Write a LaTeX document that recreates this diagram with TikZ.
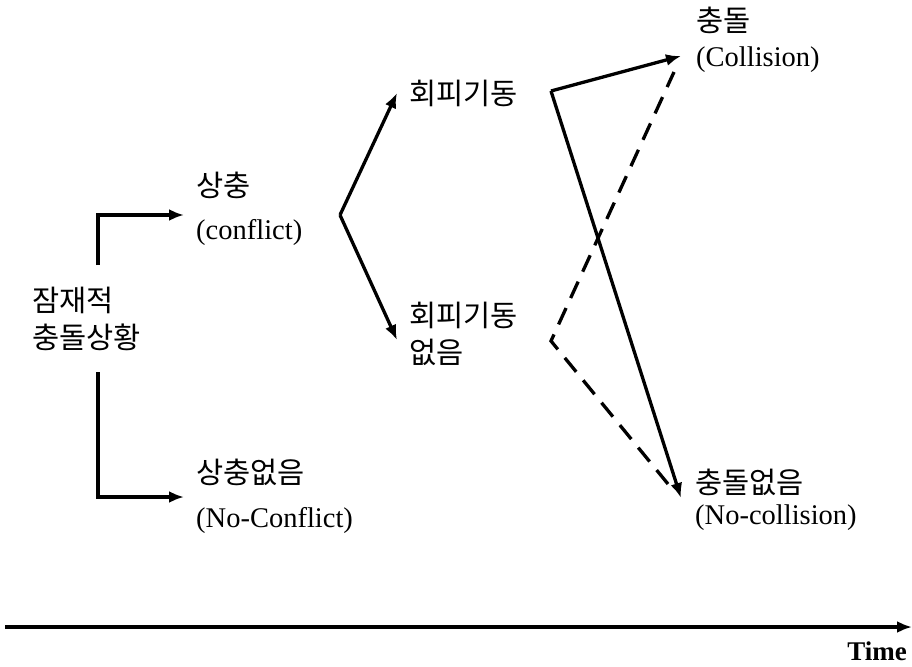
\documentclass[tikz,border=0pt]{standalone}
\usepackage{fontspec}
\setmainfont{Liberation Serif}
\newfontfamily\kr{Noto Sans CJK KR}
\usetikzlibrary{arrows.meta}
\begin{document}
\begin{tikzpicture}[x=1pt,y=-1pt,
  kor/.style={anchor=west, inner sep=0pt, font=\kr\fontsize{29.5}{32}\selectfont},
  lat/.style={anchor=west, inner sep=0pt, font=\fontsize{28.5}{32}\selectfont},
  conn/.style={line width=3.3pt, -{Latex[length=15pt,width=12pt]}},
  dconn/.style={line width=3.3pt, dash pattern=on 18pt off 11pt}]
\useasboundingbox (0,0) rectangle (912,666);

% texts
\node[kor] (k1) at (32,300) {잠재적};
\node[kor] (k2) at (32,337) {충돌상황};
\node[kor] (c1) at (196,185) {상충};
\node[lat] (c2) at (196,232) {(conflict)};
\node[kor] (n1) at (196,472) {상충없음};
\node[lat] (n2) at (196,520) {(No-Conflict)};
\node[kor] (e1) at (409,93) {회피기동};
\node[kor] (ne1) at (409,315) {회피기동};
\node[kor] (ne2) at (409,352) {없음};
\node[kor] (co1) at (696,20) {충돌};
\node[lat] (co2) at (696,60) {(Collision)};
\node[kor] (nc1) at (695,482) {충돌없음};
\node[lat] (nc2) at (695,518) {(No-collision)};
\node[anchor=east, inner sep=0pt, font=\bfseries\fontsize{27}{30}\selectfont] (time) at (907,651) {Time};

% junction coordinates
\coordinate (bt) at (98,265);
\coordinate (bb) at (98,372);
\coordinate (ca) at (184,215);
\coordinate (na) at (184,497);
\coordinate (fk) at (340,215);
\coordinate (ea) at (397,93);
\coordinate (nea) at (397,340);
\coordinate (es) at (551,91);
\coordinate (ns) at (551,341);
\coordinate (cta) at (681,56);
\coordinate (nta) at (681,498);
\coordinate (cdash) at (674,72);
\coordinate (ndash) at (668,484);
\coordinate (t0) at (5,627);
\coordinate (t1) at (912,627);

% connectors
\draw[conn] (bt) |- (ca);
\draw[conn] (bb) |- (na);
\draw[conn] (fk) -- (ea);
\draw[conn] (fk) -- (nea);
\draw[conn] (es) -- (cta);
\draw[conn] (es) -- (nta);
\draw[dconn] (ndash) -- (ns) -- (cdash);
\draw[conn] (t0) -- (t1);
\end{tikzpicture}
\end{document}
